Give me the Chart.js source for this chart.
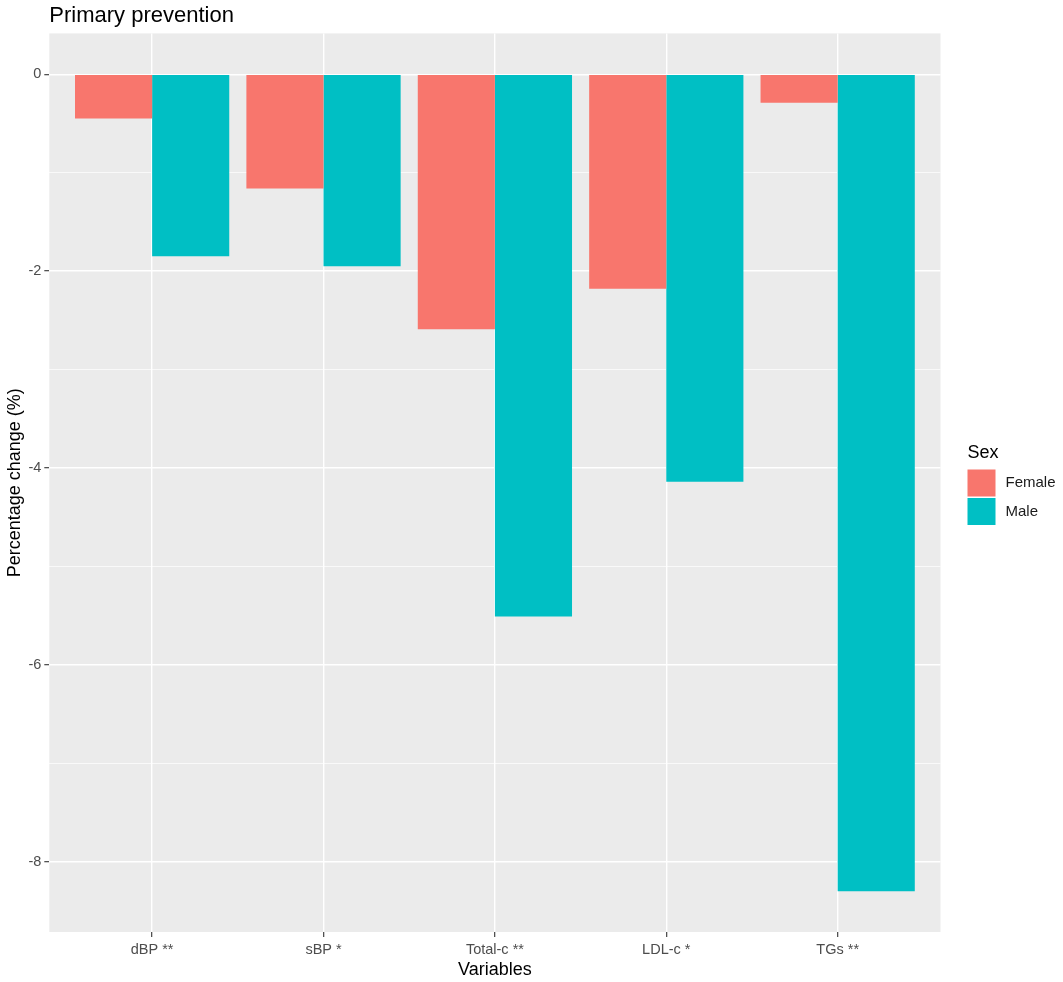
<!DOCTYPE html>
<html>
<head>
<meta charset="utf-8">
<script src="https://cdn.jsdelivr.net/npm/chart.js@4.4.1/dist/chart.umd.min.js"></script>
<style>
  html, body { margin: 0; padding: 0; background: #fff; }
  #wrap { position: relative; width: 1063px; height: 982px; }
</style>
</head>
<body>
<div id="wrap"><canvas id="chart"></canvas></div>
<script>
// data
const categories = ['dBP **', 'sBP *', 'Total-c **', 'LDL-c *', 'TGs **'];
const female = [-0.45, -1.16, -2.59, -2.18, -0.29];
const male = [-1.85, -1.95, -5.51, -4.14, -8.30];
const yTicks = [-8, -7, -6, -5, -4, -3, -2, -1, 0];
const legendTitle = 'Sex';

const FONT = '"Liberation Sans", Arial, sans-serif';

// grey panel behind the plot, like ggplot theme_grey
const panelBg = {
  id: 'panelBg',
  beforeDraw(chart) {
    const { ctx, chartArea: a } = chart;
    ctx.save();
    ctx.fillStyle = '#EBEBEB';
    ctx.fillRect(a.left, a.top, a.right - a.left, a.bottom - a.top);
    ctx.restore();
  }
};

// legend on the right, ggplot style
const sideLegend = {
  id: 'sideLegend',
  afterDraw(chart) {
    const { ctx, chartArea: a } = chart;
    const x = a.right + 27;
    ctx.save();
    ctx.fillStyle = '#000';
    ctx.font = '18px ' + FONT;
    ctx.textBaseline = 'alphabetic';
    ctx.fillText(legendTitle, x, 458);
    const rows = [[469.5, 27], [498, 27]];
    chart.data.datasets.forEach((ds, i) => {
      const [y, h] = rows[i];
      ctx.fillStyle = ds.backgroundColor;
      ctx.fillRect(x, y, 28, h);
      ctx.fillStyle = '#1A1A1A';
      ctx.font = '15px ' + FONT;
      ctx.textBaseline = 'middle';
      ctx.fillText(ds.label, x + 38, y + h / 2);
    });
    ctx.restore();
  }
};

new Chart(document.getElementById('chart'), {
  type: 'bar',
  data: {
    datasets: [
      {
        label: 'Female',
        data: female.map((v, i) => ({ x: i + 1, y: v })),
        backgroundColor: '#F8766D',
        borderWidth: 0,
        categoryPercentage: 0.9,
        barPercentage: 1.0
      },
      {
        label: 'Male',
        data: male.map((v, i) => ({ x: i + 1, y: v })),
        backgroundColor: '#00BFC4',
        borderWidth: 0,
        categoryPercentage: 0.9,
        barPercentage: 1.0
      }
    ]
  },
  options: {
    responsive: true,
    maintainAspectRatio: false,
    animation: false,
    layout: { padding: { left: 0, right: 122.5, top: 0, bottom: 0 } },
    plugins: {
      legend: { display: false },
      tooltip: { enabled: false },
      title: {
        display: true,
        text: 'Primary prevention',
        align: 'start',
        fullSize: false,
        color: '#000',
        font: { family: FONT, size: 22, weight: 'normal' },
        padding: { top: 3, bottom: 4 }
      }
    },
    scales: {
      x: {
        type: 'linear',
        min: 0.4,
        max: 5.6,
        offset: false,
        afterBuildTicks: s => { s.ticks = categories.map((c, i) => ({ value: i + 1 })); },
        afterFit: s => { s.height = 50; },
        grid: {
          offset: false,
          color: '#FFFFFF',
          lineWidth: 1.4,
          drawTicks: true,
          tickLength: 5,
          tickColor: '#333333',
          tickWidth: 1.1
        },
        border: { display: false },
        ticks: {
          padding: 4,
          color: '#4D4D4D',
          font: { family: FONT, size: 14.5 },
          maxRotation: 0,
          autoSkip: false,
          callback: v => categories[Math.round(v) - 1]
        },
        title: {
          display: true,
          text: 'Variables',
          color: '#000',
          font: { family: FONT, size: 18 },
          padding: { top: 0, bottom: 1 }
        }
      },
      y: {
        min: -8.715,
        max: 0.415,
        afterBuildTicks: s => { s.ticks = yTicks.map(v => ({ value: v })); },
        afterFit: s => { s.width = 49.3; },
        grid: {
          color: '#FFFFFF',
          lineWidth: ctx => (ctx.tick && ctx.tick.value % 2 !== 0) ? 0.7 : 1.4,
          drawTicks: true,
          tickLength: 5,
          tickColor: ctx => (ctx.tick && ctx.tick.value % 2 !== 0) ? 'rgba(0,0,0,0)' : '#333333',
          tickWidth: 1.1
        },
        border: { display: false },
        ticks: {
          padding: 3,
          color: '#4D4D4D',
          font: { family: FONT, size: 14.5 },
          callback: v => (v % 2 === 0 ? String(v) : '')
        },
        title: {
          display: true,
          text: 'Percentage change (%)',
          color: '#000',
          font: { family: FONT, size: 18 },
          padding: { top: 4, bottom: 0 }
        }
      }
    }
  },
  plugins: [panelBg, sideLegend]
});
</script>
</body>
</html>
